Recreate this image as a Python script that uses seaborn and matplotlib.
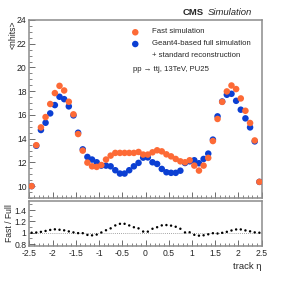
import numpy as np
import pandas as pd
import matplotlib
matplotlib.use("Agg")
import matplotlib.pyplot as plt
import seaborn as sns
from matplotlib.ticker import MultipleLocator

eta = [-2.45, -2.35, -2.25, -2.15, -2.05, -1.95, -1.85, -1.75, -1.65, -1.55,
       -1.45, -1.35, -1.25, -1.15, -1.05, -0.95, -0.85, -0.75, -0.65, -0.55,
       -0.45, -0.35, -0.25, -0.15, -0.05, 0.05, 0.15, 0.25, 0.35, 0.45,
       0.55, 0.65, 0.75, 0.85, 0.95, 1.05, 1.15, 1.25, 1.35, 1.45,
       1.55, 1.65, 1.75, 1.85, 1.95, 2.05, 2.15, 2.25, 2.35, 2.45]

fast = [10.0, 13.45, 14.95, 15.82, 16.92, 17.84, 18.45, 18.06, 17.11, 16.05,
        14.39, 12.99, 11.98, 11.67, 11.62, 11.78, 12.24, 12.57, 12.80, 12.80,
        12.80, 12.80, 12.80, 12.88, 12.66, 12.66, 12.85, 13.02, 12.93, 12.68,
        12.51, 12.29, 12.09, 12.01, 12.18, 11.73, 11.31, 11.73, 12.38, 13.80,
        15.66, 17.10, 17.98, 18.48, 18.18, 17.39, 16.35, 15.32, 13.85, 10.36]

full = [10.0, 13.40, 14.73, 15.34, 16.13, 16.83, 17.53, 17.33, 16.72, 15.96,
        14.50, 13.10, 12.46, 12.24, 12.01, 11.73, 11.73, 11.67, 11.34, 11.06,
        11.06, 11.34, 11.67, 11.96, 12.40, 12.42, 12.01, 11.87, 11.45, 11.17,
        11.12, 11.12, 11.30, 11.95, 12.09, 12.18, 11.93, 12.29, 12.74, 13.92,
        15.88, 17.13, 17.70, 17.78, 17.19, 16.44, 15.71, 14.95, 13.77, 10.36]

xticks = [-2.5, -2, -1.5, -1, -0.5, 0, 0.5, 1, 1.5, 2, 2.5]
xticklabels = ["-2.5", "-2", "-1.5", "-1", "-0.5", "0", "0.5", "1", "1.5", "2", "2.5"]
rticks = [0.8, 1.0, 1.2, 1.4]
rticklabels = ["0.8", "1", "1.2", "1.4"]

df = pd.DataFrame({"eta": eta, "fast": fast, "full": full})
df["ratio"] = df["fast"] / df["full"]

sns.set_style("ticks")
plt.rcParams["font.family"] = ["Liberation Sans", "DejaVu Sans"]

C_FAST = "#fd6a36"
C_FULL = "#0b3fd3"
FRAME = "#8c8c8c"
MS = 22

fig = plt.figure(figsize=(2.91, 2.88), dpi=100)
ax = fig.add_axes([0.1007, 0.3125, 0.7986, 0.6181])
rax = fig.add_axes([0.1007, 0.1458, 0.7986, 0.1562])

sns.scatterplot(data=df, x="eta", y="full", ax=ax, color=C_FULL, s=MS,
                edgecolor="none", legend=False, zorder=3)
sns.scatterplot(data=df, x="eta", y="fast", ax=ax, color=C_FAST, s=MS,
                edgecolor="none", legend=False, zorder=4)

ax.set_xlim(-2.5, 2.5)
ax.set_ylim(9, 24)
ax.set_xlabel("")
ax.set_ylabel("")
ax.yaxis.set_major_locator(MultipleLocator(2))
ax.yaxis.set_minor_locator(MultipleLocator(0.5))
ax.xaxis.set_major_locator(MultipleLocator(0.5))
ax.xaxis.set_minor_locator(MultipleLocator(0.1))
ax.tick_params(axis="x", labelbottom=False)

sns.scatterplot(data=df, x="eta", y="ratio", ax=rax, color="black", s=3.0,
                marker="o", edgecolor="none", legend=False, zorder=3)
rax.axhline(1.0, color="#888888", lw=0.6, ls=(0, (1, 1.5)), zorder=2)
rax.set_xlim(-2.5, 2.5)
rax.set_ylim(0.765, 1.56)
rax.set_xlabel("")
rax.set_ylabel("")
rax.set_xticks(xticks)
rax.set_xticklabels(xticklabels)
rax.set_yticks(rticks)
rax.set_yticklabels(rticklabels)
rax.xaxis.set_minor_locator(MultipleLocator(0.1))
rax.yaxis.set_minor_locator(MultipleLocator(0.1))

for a in (ax, rax):
    for sp in a.spines.values():
        sp.set_visible(True)
        sp.set_color(FRAME)
        sp.set_linewidth(1.1)
    a.tick_params(which="major", direction="in", length=4, width=0.6,
                  color="#555555", labelsize=6.2, pad=2, top=False, right=False)
    a.tick_params(which="minor", direction="in", length=2, width=0.5,
                  color="#555555", top=False, right=False)

fig.text(0.045, 0.93, "<nhits>", rotation=90, ha="center", va="top", fontsize=6.2)
fig.text(0.032, 0.226, "Fast / Full", rotation=90, ha="center", va="center", fontsize=6.2)
fig.text(0.897, 0.076, "track \u03b7", ha="right", va="center", fontsize=6.8)

fig.text(0.866, 0.958, "Simulation", ha="right", va="center", fontsize=6.8, style="italic")
fig.text(0.700, 0.958, "CMS", ha="right", va="center", fontsize=6.8, weight="bold")

# legend
ax.scatter([0.456], [0.931], transform=ax.transAxes, s=MS, color=C_FAST, edgecolor="none", clip_on=False)
ax.scatter([0.456], [0.865], transform=ax.transAxes, s=MS, color=C_FULL, edgecolor="none", clip_on=False)
fig.text(0.521, 0.889, "Fast simulation", ha="left", va="center", fontsize=5.6)
fig.text(0.521, 0.848, "Geant4-based full simulation", ha="left", va="center", fontsize=5.6)
fig.text(0.521, 0.806, "+ standard reconstruction", ha="left", va="center", fontsize=5.6)
fig.text(0.457, 0.757, "pp \u2192 ttj, 13TeV, PU25", ha="left", va="center", fontsize=5.6)

fig.savefig("out.png", dpi=100)
